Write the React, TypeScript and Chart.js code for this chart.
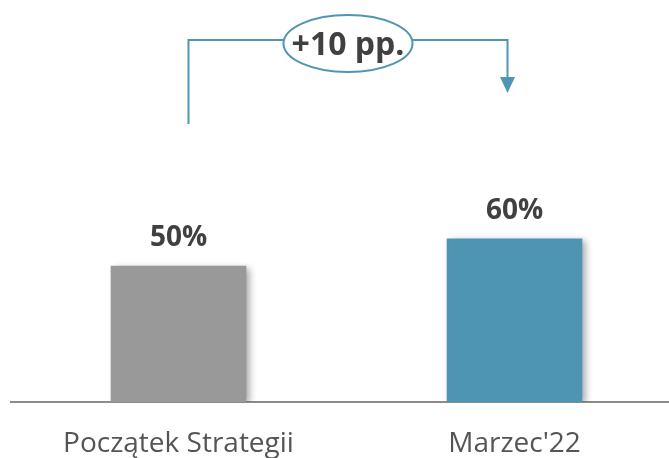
import React, { useEffect, useRef } from "react";
import { Chart, registerables } from "chart.js";

Chart.register(...registerables);

const categories = ["Początek Strategii", "Marzec'22"];
const values = [50, 60];
const barColors = ["#999999", "#4E95B3"];
const changeLabel = "+10 pp.";

const FONT = "'Open Sans', 'Noto Sans', sans-serif";
const TEAL = "#4E96B4";

const customPlugin = {
  id: "custom",
  beforeDatasetsDraw(chart: any) {
    const ctx = chart.ctx;
    ctx.save();
    ctx.shadowColor = "rgba(0,0,0,0.35)";
    ctx.shadowBlur = 7;
    ctx.shadowOffsetX = 4;
    ctx.shadowOffsetY = 2;
  },
  afterDatasetsDraw(chart: any) {
    const ctx = chart.ctx;
    ctx.restore();
    const meta = chart.getDatasetMeta(0);
    ctx.save();
    ctx.fillStyle = "#404040";
    ctx.font = `bold 28px ${FONT}`;
    ctx.textAlign = "center";
    ctx.textBaseline = "alphabetic";
    meta.data.forEach((bar: any, i: number) => {
      ctx.fillText(`${values[i]}%`, bar.x, bar.y - 20);
    });
    ctx.restore();
  },
  afterDraw(chart: any) {
    const ctx = chart.ctx;
    const xs = chart.scales.x;
    const leftX = xs.getPixelForValue(0) + 10;
    const rightX = xs.getPixelForValue(1) - 7;
    const topY = 40;
    const leftBottom = 124;
    const arrowTip = 93;
    const arrowLen = 16;
    const cx = (leftX + rightX) / 2;
    const cy = 43.5;
    ctx.save();
    ctx.strokeStyle = TEAL;
    ctx.fillStyle = TEAL;
    ctx.lineWidth = 2;
    ctx.beginPath();
    ctx.moveTo(leftX, leftBottom);
    ctx.lineTo(leftX, topY);
    ctx.lineTo(rightX, topY);
    ctx.lineTo(rightX, arrowTip - arrowLen + 2);
    ctx.stroke();
    ctx.beginPath();
    ctx.moveTo(rightX - 7.5, arrowTip - arrowLen);
    ctx.lineTo(rightX + 7.5, arrowTip - arrowLen);
    ctx.lineTo(rightX, arrowTip);
    ctx.closePath();
    ctx.fill();
    ctx.beginPath();
    ctx.ellipse(cx, cy, 64.5, 28.5, 0, 0, Math.PI * 2);
    ctx.fillStyle = "#ffffff";
    ctx.fill();
    ctx.stroke();
    ctx.fillStyle = "#404040";
    ctx.font = `bold 32px ${FONT}`;
    ctx.textAlign = "center";
    ctx.textBaseline = "alphabetic";
    ctx.fillText(changeLabel, cx, 54.5);
    ctx.restore();
  },
};

export default function App() {
  const ref = useRef<HTMLCanvasElement | null>(null);
  useEffect(() => {
    if (!ref.current) return;
    const chart = new Chart(ref.current, {
      type: "bar",
      data: {
        datasets: [
          {
            data: values.map((v, i) => ({ x: i, y: v })),
            backgroundColor: barColors,
            barThickness: 135,
            borderWidth: 0,
          },
        ],
      },
      options: {
        animation: false,
        responsive: true,
        maintainAspectRatio: false,
        layout: { padding: { top: 130, left: 11, right: 0, bottom: 0 } },
        plugins: {
          legend: { display: false },
          tooltip: { enabled: false },
        },
        scales: {
          x: {
            type: "linear",
            offset: false,
            min: -0.4985,
            max: 1.4598,
            afterBuildTicks: (scale: any) => {
              scale.ticks = categories.map((_, i) => ({ value: i }));
            },
            afterFit: (scale: any) => {
              scale.height = 56;
            },
            grid: { display: false },
            border: { display: true, color: "#8C8C8C", width: 2 },
            ticks: {
              autoSkip: false,
              maxRotation: 0,
              padding: 17,
              color: "#555555",
              font: { family: FONT, size: 28 },
              callback: (v: any) => categories[v] ?? "",
            },
          },
          y: {
            display: false,
            min: 0,
            max: 100,
          },
        },
      },
      plugins: [customPlugin],
    } as any);
    return () => chart.destroy();
  }, []);
  return (
    <div style={{ position: "fixed", left: 0, top: 0, width: 669, height: 458, background: "#fff" }}>
      <canvas ref={ref} />
    </div>
  );
}
